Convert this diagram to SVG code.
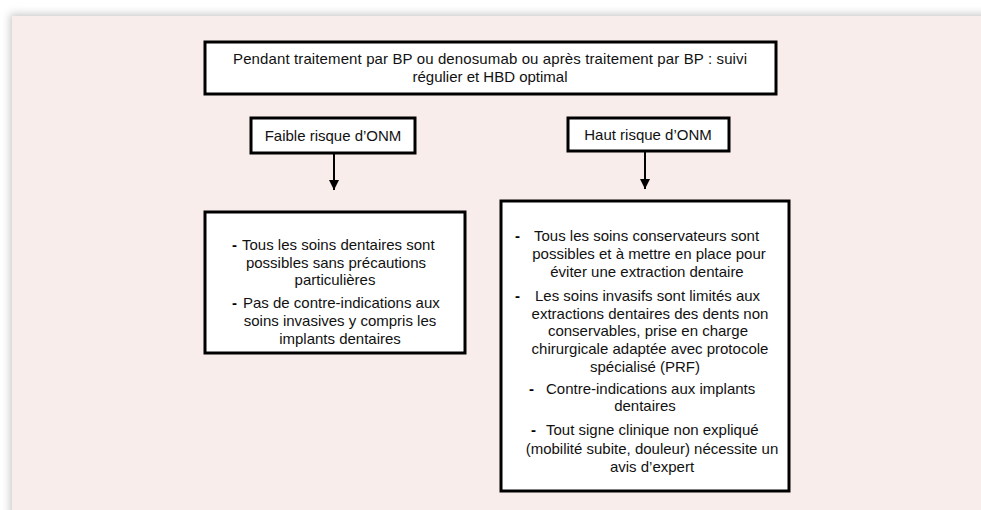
<svg xmlns="http://www.w3.org/2000/svg" width="981" height="510" viewBox="0 0 981 510">
  <defs>
    <filter id="panelShadow" x="-5%" y="-5%" width="110%" height="110%">
      <feGaussianBlur stdDeviation="4"/>
    </filter>
    <marker id="arrowHead" viewBox="0 0 10 10" refX="10" refY="5" markerWidth="10" markerHeight="10" markerUnits="userSpaceOnUse" orient="auto">
      <path d="M0,0 L10,5 L0,10 Z" fill="#000"/>
    </marker>
    <style>
      .box { fill: #ffffff; stroke: #000000; stroke-width: 3; }
      .txt { font-family: "Liberation Sans", Arial, sans-serif; font-size: 15px; fill: #111111; }
      .mid { text-anchor: middle; }
      .dash { font-family: "Liberation Sans", Arial, sans-serif; font-size: 15px; font-weight: bold; fill: #000000; }
      .conn { stroke: #000000; stroke-width: 2; fill: none; }
    </style>
  </defs>

  <!-- background -->
  <rect x="0" y="0" width="981" height="510" fill="#ffffff"/>
  <rect x="10" y="14" width="985" height="510" fill="#c8c8c8" filter="url(#panelShadow)"/>
  <rect x="12" y="16" width="969" height="494" fill="#f9edeb"/>

  <!-- top node -->
  <g id="node-traitement">
    <rect class="box" x="205" y="42" width="571" height="52"/>
    <text class="txt mid" x="490" y="64" textLength="514">Pendant traitement par BP ou denosumab ou après traitement par BP : suivi</text>
    <text class="txt mid" x="490" y="82">régulier et HBD optimal</text>
  </g>

  <!-- risk level nodes -->
  <g id="node-faible">
    <rect class="box" x="251" y="118" width="164" height="35"/>
    <text class="txt mid" x="333" y="141">Faible risque d’ONM</text>
  </g>
  <g id="node-haut">
    <rect class="box" x="568" y="118" width="161" height="33"/>
    <text class="txt mid" x="648" y="140">Haut risque d’ONM</text>
  </g>

  <!-- recommendation nodes -->
  <g id="node-faible-soins">
    <rect class="box" x="205" y="212" width="260" height="141"/>
    <text class="dash" x="232" y="250">-</text>
    <text class="txt" x="242" y="250">Tous les soins dentaires sont</text>
    <text class="txt mid" x="336" y="268">possibles sans précautions</text>
    <text class="txt mid" x="335" y="285">particulières</text>
    <text class="dash" x="232" y="308">-</text>
    <text class="txt" x="243" y="308">Pas de contre-indications aux</text>
    <text class="txt mid" x="340" y="326">soins invasives y compris les</text>
    <text class="txt mid" x="340" y="344">implants dentaires</text>
  </g>

  <g id="node-haut-soins">
    <rect class="box" x="501" y="201" width="288" height="290"/>
    <text class="dash" x="515" y="241">-</text>
    <text class="txt" x="534" y="241">Tous les soins conservateurs sont</text>
    <text class="txt mid" x="649" y="259">possibles et à mettre en place pour</text>
    <text class="txt mid" x="647" y="277">éviter une extraction dentaire</text>
    <text class="dash" x="515" y="301">-</text>
    <text class="txt" x="535" y="301">Les soins invasifs sont limités aux</text>
    <text class="txt mid" x="650" y="319">extractions dentaires des dents non</text>
    <text class="txt mid" x="648" y="336">conservables, prise en charge</text>
    <text class="txt mid" x="650" y="354">chirurgicale adaptée avec protocole</text>
    <text class="txt mid" x="645" y="372">spécialisé (PRF)</text>
    <text class="dash" x="529" y="394">-</text>
    <text class="txt" x="546" y="394">Contre-indications aux implants</text>
    <text class="txt mid" x="645" y="411">dentaires</text>
    <text class="dash" x="531" y="435">-</text>
    <text class="txt" x="546" y="435">Tout signe clinique non expliqué</text>
    <text class="txt mid" x="652" y="454">(mobilité subite, douleur) nécessite un</text>
    <text class="txt mid" x="652" y="472">avis d’expert</text>
  </g>

  <!-- connectors -->
  <g id="connectors">
    <line class="conn" x1="334" y1="154" x2="334" y2="190" marker-end="url(#arrowHead)"/>
    <line class="conn" x1="645" y1="152" x2="645" y2="189" marker-end="url(#arrowHead)"/>
  </g>
</svg>
